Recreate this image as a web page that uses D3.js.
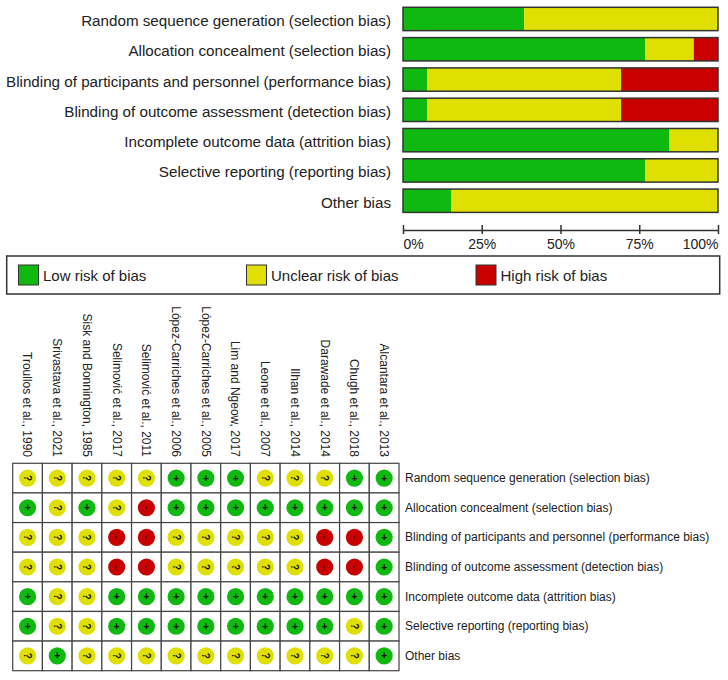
<!DOCTYPE html>
<html>
<head>
<meta charset="utf-8">
<script src="https://cdn.jsdelivr.net/npm/d3@7"></script>
<style>
  body { margin: 0; background: #fff; }
  text { font-family: "Liberation Sans", Arial, sans-serif; fill: #222; }
</style>
</head>
<body>
<svg id="chart" width="728" height="680"></svg>
<script>
// risk of bias domains (rows)
var domains = [
    "Random sequence generation (selection bias)",
    "Allocation concealment (selection bias)",
    "Blinding of participants and personnel (performance bias)",
    "Blinding of outcome assessment (detection bias)",
    "Incomplete outcome data (attrition bias)",
    "Selective reporting (reporting bias)",
    "Other bias"
];

// studies (columns), in the order of the summary grid
var studies = [
    "Troullos et al., 1990",
    "Srivastava et al., 2021",
    "Sisk and Bonnington, 1985",
    "Selimović et al., 2017",
    "Selimović et al., 2011",
    "López-Carriches et al., 2006",
    "López-Carriches et al., 2005",
    "Lim and Ngeow, 2017",
    "Leone et al., 2007",
    "Ilhan et al., 2014",
    "Darawade et al., 2014",
    "Chugh et al., 2018",
    "Alcantara et al., 2013"
];

// judgements per domain, one per study: L = low, U = unclear, H = high
var randomSeq   = ["U","U","U","U","U","L","L","L","U","U","U","L","L"];
var allocation  = ["L","U","L","U","H","L","L","L","L","L","L","L","L"];
var blindPart   = ["U","U","U","H","H","U","U","U","U","U","H","H","L"];
var blindOut    = ["U","U","U","H","H","U","U","U","U","U","H","H","L"];
var incomplete  = ["L","U","U","L","L","L","L","L","L","L","L","L","L"];
var selective   = ["L","U","U","L","L","L","L","L","L","L","L","U","L"];
var otherBias   = ["U","L","U","U","U","U","U","U","U","U","U","U","L"];

var judgements = [randomSeq, allocation, blindPart, blindOut, incomplete, selective, otherBias];

var levels = ["L","U","H"];
var levelNames = ["Low risk of bias", "Unclear risk of bias", "High risk of bias"];
var tickValues = [0, 25, 50, 75, 100];

var colors = {L: "#10b910", U: "#e0e000", H: "#c80000"};
var symbols = {L: "+", U: "?", H: "-"};
var outline = "#333";

var svg = d3.select("#chart");
svg.append("rect").attr("width", 728).attr("height", 680).attr("fill", "#fff");

//Graph (percent bars)

var x = d3.scaleLinear().domain([0, 100]).range([403, 718]);
var y = d3.scaleBand().domain(domains).range([7.3, 212.4]).paddingInner(0.23).paddingOuter(0);

var barData = domains.map(function(d, i){
    var row = judgements[i], start = 0;
    return levels.map(function(l){
        var n = row.filter(function(v){ return v == l; }).length;
        var pct = n / row.length * 100;
        var seg = {domain: d, level: l, x0: start, x1: start + pct};
        start += pct;
        return seg;
    });
});

var graph = svg.append("g");
graph.selectAll("g.row")
    .data(barData)
    .enter().append("g")
    .attr("class", "row")
    .selectAll("rect")
    .data(function(d){ return d.filter(function(s){ return s.x1 > s.x0; }); })
    .enter().append("rect")
    .attr("x", function(d){ return x(d.x0); })
    .attr("y", function(d){ return y(d.domain); })
    .attr("width", function(d){ return x(d.x1) - x(d.x0); })
    .attr("height", y.bandwidth())
    .attr("fill", function(d){ return colors[d.level]; });

graph.selectAll("rect.frame")
    .data(domains)
    .enter().append("rect")
    .attr("class", "frame")
    .attr("x", x(0))
    .attr("y", function(d){ return y(d); })
    .attr("width", x(100) - x(0))
    .attr("height", y.bandwidth())
    .attr("fill", "none")
    .attr("stroke", outline)
    .attr("stroke-width", 1.5);

graph.selectAll("text.dom")
    .data(domains)
    .enter().append("text")
    .attr("class", "dom")
    .text(function(d){ return d; })
    .attr("x", 391)
    .attr("y", function(d){ return y(d) + y.bandwidth()/2 + 7; })
    .attr("font-size", 15.2)
    .attr("text-anchor", "end");

// Axis
var axis = d3.axisBottom(x)
    .tickValues(tickValues)
    .tickFormat(function(d){ return d + "%"; })
    .tickSizeInner(-5)
    .tickSizeOuter(0)
    .tickPadding(9);

var ax = svg.append("g")
    .attr("transform", "translate(0,230)")
    .call(axis);
ax.select(".domain").attr("stroke", outline).attr("stroke-width", 1.5);
ax.selectAll(".tick line").attr("stroke", outline).attr("stroke-width", 1.5).attr("y1", 4);
ax.selectAll(".tick text")
    .attr("font-size", 14)
    .attr("font-family", "Liberation Sans, Arial, sans-serif")
    .attr("fill", "#222")
    .attr("text-anchor", function(d){ return d == 0 ? "start" : (d == 100 ? "end" : "middle"); });

// Legend
var legend = svg.append("g");
legend.append("rect")
    .attr("x", 6.7).attr("y", 256)
    .attr("width", 713).attr("height", 38)
    .attr("fill", "#fff")
    .attr("stroke", outline)
    .attr("stroke-width", 1.5);

var legendX = [18.5, 246.5, 476];
var items = legend.selectAll("g.item")
    .data(levels)
    .enter().append("g")
    .attr("class", "item")
    .attr("transform", function(d, i){ return "translate(" + legendX[i] + ",265)"; });
items.append("rect")
    .attr("width", 20).attr("height", 20)
    .attr("fill", function(d){ return colors[d]; })
    .attr("stroke", outline)
    .attr("stroke-width", 1);
items.append("text")
    .text(function(d, i){ return levelNames[i]; })
    .attr("x", 24.5)
    .attr("y", 15.5)
    .attr("font-size", 15);

//Summary grid

var gx = d3.scaleBand().domain(studies).range([12.7, 399]);
var gy = d3.scaleBand().domain(domains).range([463.3, 670.7]);

var grid = svg.append("g");

var cells = [];
domains.forEach(function(d, i){
    studies.forEach(function(s, j){
        cells.push({domain: d, study: s, level: judgements[i][j]});
    });
});

grid.selectAll("rect.cell")
    .data(cells)
    .enter().append("rect")
    .attr("class", "cell")
    .attr("x", function(d){ return gx(d.study); })
    .attr("y", function(d){ return gy(d.domain); })
    .attr("width", gx.bandwidth())
    .attr("height", gy.bandwidth())
    .attr("fill", "#fff")
    .attr("stroke", "#444")
    .attr("stroke-width", 1.2);

grid.selectAll("circle.mark")
    .data(cells)
    .enter().append("circle")
    .attr("class", "mark")
    .attr("cx", function(d){ return gx(d.study) + gx.bandwidth()/2; })
    .attr("cy", function(d){ return gy(d.domain) + gy.bandwidth()/2; })
    .attr("r", 8.6)
    .attr("fill", function(d){ return colors[d.level]; });

grid.selectAll("text.sym")
    .data(cells)
    .enter().append("text")
    .attr("class", "sym")
    .text(function(d){ return symbols[d.level]; })
    .attr("transform", function(d){
        var cx = gx(d.study) + gx.bandwidth()/2;
        var cy = gy(d.domain) + gy.bandwidth()/2;
        return d.level == "L" ? "translate(" + cx + "," + cy + ")" : "translate(" + cx + "," + cy + ") rotate(90)";
    })
    .attr("dy", "0.35em")
    .attr("text-anchor", "middle")
    .attr("font-size", 10)
    .attr("font-weight", "bold")
    .style("fill", "#111");

// study labels, rotated
grid.selectAll("text.study")
    .data(studies)
    .enter().append("text")
    .attr("class", "study")
    .text(function(d){ return d; })
    .attr("transform", function(d){ return "translate(" + (gx(d) + gx.bandwidth()/2) + ",457) rotate(90)"; })
    .attr("dy", "0.35em")
    .attr("text-anchor", "end")
    .attr("font-size", 12);

// domain labels on the right
grid.selectAll("text.gdom")
    .data(domains)
    .enter().append("text")
    .attr("class", "gdom")
    .text(function(d){ return d; })
    .attr("x", 405)
    .attr("y", function(d){ return gy(d) + gy.bandwidth()/2 + 4; })
    .attr("font-size", 12);
</script>
</body>
</html>
